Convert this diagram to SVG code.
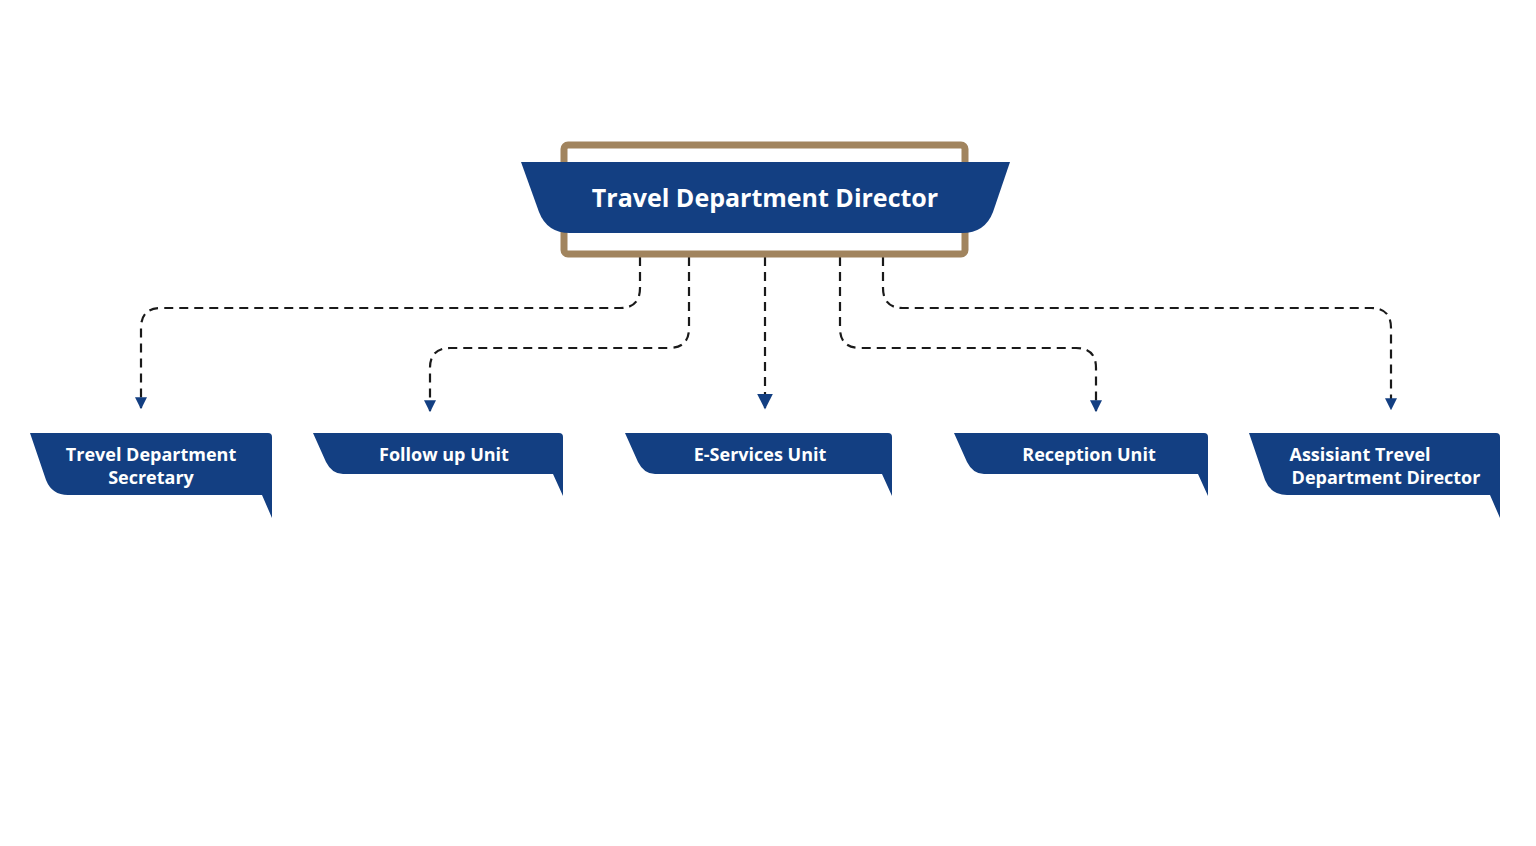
<svg xmlns="http://www.w3.org/2000/svg" width="1536" height="846" viewBox="0 0 1536 846">
<style>
.b{fill:#133f82}
.t{fill:#fff;font-family:"Open Sans","Liberation Sans",sans-serif;font-weight:bold;font-size:18px;text-anchor:middle}
.c{fill:none;stroke:#1a1a1a;stroke-width:2.2;stroke-dasharray:9 6}
</style>
<defs>
<marker id="a" viewBox="0 0 10 10" refX="9" refY="5" markerWidth="12" markerHeight="14" orient="auto" markerUnits="userSpaceOnUse"><path d="M0,0L10,5L0,10Z" fill="#133f82"/></marker>
<marker id="a2" viewBox="0 0 10 10" refX="9" refY="5" markerWidth="16" markerHeight="20" orient="auto" markerUnits="userSpaceOnUse"><path d="M0,0L10,5L0,10Z" fill="#133f82"/></marker>
</defs>
<rect width="1536" height="846" fill="#fff"/>
<g id="connectors">
<path class="c" d="M640,257V288Q640,308 620,308H161Q141,308 141,328V408" marker-end="url(#a)"/>
<path class="c" d="M689,257V328Q689,348 669,348H450Q430,348 430,368V411" marker-end="url(#a)"/>
<path class="c" d="M765,257V408" marker-end="url(#a2)"/>
<path class="c" d="M840,257V328Q840,348 860,348H1076Q1096,348 1096,368V411" marker-end="url(#a)"/>
<path class="c" d="M883,257V288Q883,308 903,308H1371Q1391,308 1391,328V409" marker-end="url(#a)"/>
</g>
<g id="director">
<rect x="564" y="145" width="401" height="109" rx="4" fill="none" stroke="#a1845e" stroke-width="7"/>
<path class="b" d="M521,162H1010L993,212Q985,233 962,233H570Q547,233 539,212Z"/>
<text class="t" x="765" y="207" style="font-size:25px">Travel Department Director</text>
</g>
<g id="n1">
<path class="b" d="M30,433H268Q272,433 272,437V518L262,495H68Q52,495 46,480Z"/>
<text class="t" x="151" y="461">Trevel Department</text><text class="t" x="151" y="484">Secretary</text>
</g>
<g id="n2">
<path class="b" d="M313,433H559Q563,433 563,437V496L553,474H343Q332,474 326,462Z"/>
<text class="t" x="444" y="461">Follow up Unit</text>
</g>
<g id="n3">
<path class="b" d="M625,433H888Q892,433 892,437V496L882,474H655Q644,474 638,462Z"/>
<text class="t" x="760" y="461">E-Services Unit</text>
</g>
<g id="n4">
<path class="b" d="M954,433H1204Q1208,433 1208,437V496L1198,474H984Q973,474 967,462Z"/>
<text class="t" x="1089" y="461">Reception Unit</text>
</g>
<g id="n5">
<path class="b" d="M1249,433H1496Q1500,433 1500,437V518L1490,495H1287Q1271,495 1265,480Z"/>
<text class="t" x="1360" y="461">Assisiant Trevel</text><text class="t" x="1386" y="484">Department Director</text>
</g>
</svg>
